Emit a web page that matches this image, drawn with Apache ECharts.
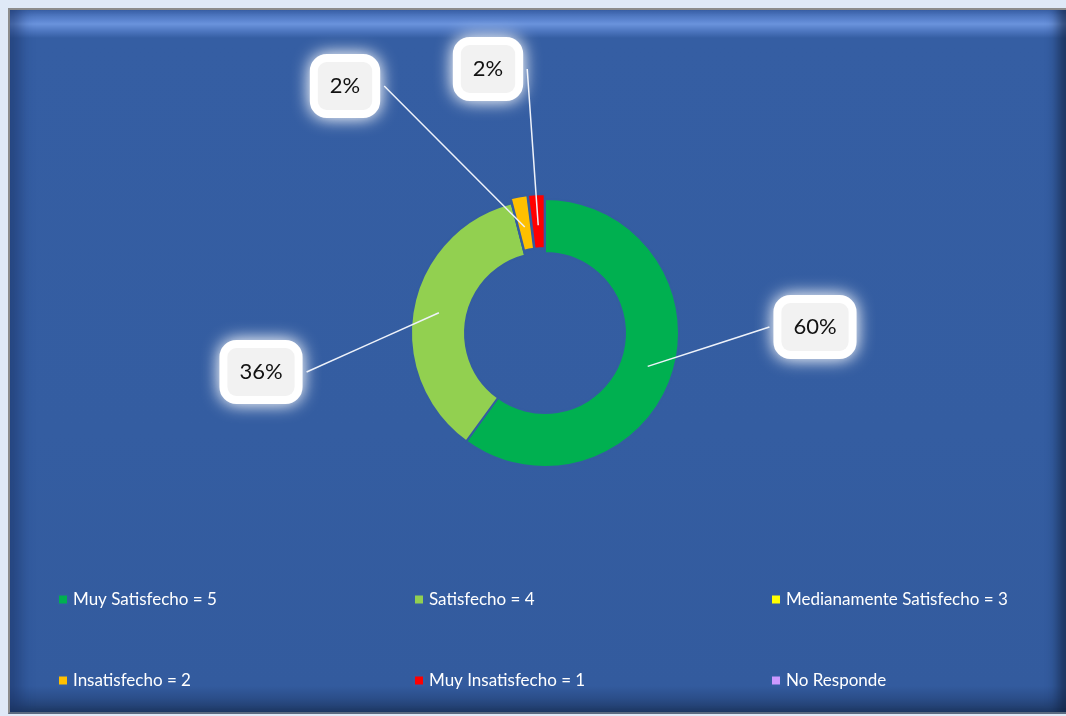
<!DOCTYPE html>
<html>
<head>
<meta charset="utf-8">
<script src="https://cdn.jsdelivr.net/npm/echarts/dist/echarts.min.js"></script>
<style>
html,body{margin:0;padding:0;background:#dfe9f7;width:1066px;height:716px;overflow:hidden}
#frame{position:absolute;left:8px;top:8px;width:1058px;height:702px;border-top:2px solid #8c8c8c;border-left:2px solid #8c8c8c;border-bottom:2px solid #5a6a80;
background:linear-gradient(to bottom,#3c64ab 0px,#5f88d3 11px,#6a93dc 14px,#4a73bc 22px,#355ea3 28px,#345da1 60%,#335b9e calc(100% - 26px),#2b4e8a calc(100% - 14px),#1f3a66 100%);
box-shadow: inset 22px 0 14px -12px rgba(25,50,100,0.55), inset -18px 0 12px -8px rgba(15,30,60,0.65);}
#chart{position:absolute;left:0;top:0;width:1066px;height:716px}
</style>
</head>
<body>
<div id="frame"></div>
<div id="chart"></div>
<script>
const categories = ['Muy Satisfecho = 5','Satisfecho = 4','Medianamente Satisfecho = 3','Insatisfecho = 2','Muy Insatisfecho = 1','No Responde'];
const values = [60, 36, 0, 2, 2, 0];
const colors = ['#00b050','#92d050','#ffff00','#ffc000','#ff0000','#cc99ff'];
const exploded = [3, 4];
const labelPos = {0:[815,327], 1:[261,372], 3:[345,86], 4:[488,69]};
const legendCols = [57, 413, 770];
const legendRows = [591, 672];

const CX = 545, CY = 333, R_IN = 80, R_OUT = 134, R_MID = 108;
const BG = '#345da1';

const chart = echarts.init(document.getElementById('chart'), null, {renderer:'canvas'});
const total = values.reduce((a,b)=>a+b,0);

const legends = categories.map((name, i) => ({
  orient:'horizontal', padding:0, icon:'rect', itemWidth:10, itemHeight:10,
  left: legendCols[i % 3], top: legendRows[Math.floor(i / 3)],
  selectedMode:false, data:[name],
  textStyle:{color:'#ffffff', fontFamily:'Lato', fontSize:17}
}));

const pieCommon = {
  type:'pie', center:[CX, CY], radius:[R_IN, R_OUT], startAngle:90, clockwise:true,
  avoidLabelOverlap:false, emphasis:{disabled:true}
};

chart.setOption({
  backgroundColor:'transparent',
  animation:false,
  textStyle:{fontFamily:'Lato'},
  legend: legends,
  series:[
    Object.assign({}, pieCommon, {
      name:'ring', z:2,
      selectedMode:'multiple', selectedOffset:5,
      itemStyle:{borderColor:BG, borderWidth:2},
      label:{show:false}, labelLine:{show:false},
      data:categories.map((n,i)=>({
        name:n, value:values[i],
        selected: exploded.indexOf(i) >= 0,
        itemStyle:{color:colors[i]},
        select:{itemStyle:{color:colors[i], borderColor:BG, borderWidth:2}}
      }))
    }),
    Object.assign({}, pieCommon, {
      name:'labels', z:3, silent:true,
      itemStyle:{color:'rgba(0,0,0,0)', borderWidth:0},
      label:{
        show:true,
        formatter:p=>Math.round(p.percent)+'%',
        fontFamily:'Lato', fontSize:22, lineHeight:22, color:'#111',
        backgroundColor:'#f2f2f2', padding:[13,12],
        borderColor:'#ffffff', borderWidth:8, borderRadius:9,
        shadowColor:'#ffffff', shadowBlur:18
      },
      labelLine:{show:true, length:10, length2:10, lineStyle:{color:'#eef2fa', width:1.5}},
      labelLayout:function(p){
        const pos = labelPos[p.dataIndex];
        if(!pos) return {};
        let cum = 0;
        for(let i=0;i<p.dataIndex;i++) cum += values[i];
        const a = (cum + values[p.dataIndex]/2)/total*2*Math.PI;
        const sx = CX + R_MID*Math.sin(a), sy = CY - R_MID*Math.cos(a);
        const hw = p.labelRect.width/2 + 4;
        const ex = pos[0] < CX ? pos[0]+hw : pos[0]-hw;
        return {
          x:pos[0], y:pos[1], align:'center', verticalAlign:'middle',
          labelLinePoints:[[sx,sy],[(sx+ex)/2,(sy+pos[1])/2],[ex,pos[1]]]
        };
      },
      data:categories.map((n,i)=>({
        name:n, value:values[i],
        label:{show:values[i]>0},
        labelLine:{show:values[i]>0}
      }))
    })
  ]
});
</script>
</body>
</html>
